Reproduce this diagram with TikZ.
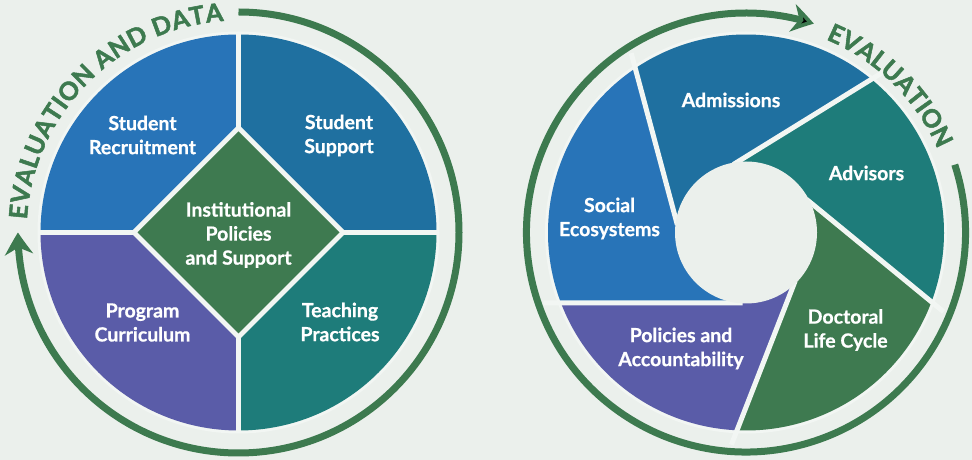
\documentclass[tikz,border=0pt]{standalone}
\usepackage{fontspec}
\setmainfont{Lato}
\newfontfamily\arcfont{Lato}[BoldFeatures={FakeBold=2}]
\newfontfamily\labfont{Lato}[BoldFeatures={FakeBold=0.7}]
\usetikzlibrary{arrows.meta,bending,decorations.text,calc}
\definecolor{bg}{HTML}{EBF0EC}
\definecolor{gapc}{HTML}{F2F6F3}
\definecolor{cblue}{HTML}{2874B8}
\definecolor{cdblue}{HTML}{1F70A0}
\definecolor{cpurple}{HTML}{5A5CA8}
\definecolor{cteal}{HTML}{1E7C7A}
\definecolor{cgreen}{HTML}{3E7A50}
\definecolor{arcg}{HTML}{3D7A4F}
\begin{document}
\begin{tikzpicture}[x=1pt,y=1pt,
  lab/.style={text=white, align=center, font=\labfont\bfseries\fontsize{19.5}{24}\selectfont},
  gapline/.style={draw=gapc, line width=5pt},
  halo/.style={draw=gapc, line width=3pt},
  ring/.style={draw=arcg, line width=7pt, -{Stealth[length=22pt,width=28pt,inset=7pt,bend]}},
  arctext/.style={decorate, decoration={text along path, text align={fit to path}, text color=arcg}}]
\fill[bg] (0,0) rectangle (972,460);
\useasboundingbox (0,0) rectangle (972,460);
\coordinate (C1) at (238.5,227.5);
\coordinate (C2) at (746,227.5);
% ---------- left circle ----------
\draw[halo] (C1) circle[radius=199.5];
\fill[cdblue] (C1) -- ($(C1)+(0:198)$) arc[start angle=0,end angle=90,radius=198] -- cycle;
\fill[cblue] (C1) -- ($(C1)+(90:198)$) arc[start angle=90,end angle=180,radius=198] -- cycle;
\fill[cpurple] (C1) -- ($(C1)+(180:198)$) arc[start angle=180,end angle=270,radius=198] -- cycle;
\fill[cteal] (C1) -- ($(C1)+(270:198)$) arc[start angle=270,end angle=360,radius=198] -- cycle;
\draw[gapline] ($(C1)+(0,-200)$) -- ($(C1)+(0,200)$);
\draw[gapline] ($(C1)+(-200,0)$) -- ($(C1)+(200,0)$);
\fill[gapc] ($(C1)+(0,108)$) -- ($(C1)+(108,0)$) -- ($(C1)+(0,-108)$) -- ($(C1)+(-108,0)$) -- cycle;
\fill[cgreen] ($(C1)+(0,101)$) -- ($(C1)+(101,0)$) -- ($(C1)+(0,-101)$) -- ($(C1)+(-101,0)$) -- cycle;
\node[lab] (recruit) at (142.5,325) {Student\\Recruitment};
\node[lab] (support) at (339,324.5) {Student\\Support};
\node[lab] (curric) at (142.5,137.5) {Program\\Curriculum};
\node[lab] (teach) at (340,138) {Teaching\\Practices};
\node[lab] (inst) at (238.5,225) {Institutional\\Policies\\and Support};
\draw[ring] ($(C1)+(90:220.5)$) arc[start angle=90,end angle=-180,radius=220.5];
\path[arctext, decoration={text={|\arcfont\bfseries\fontsize{25}{25}\selectfont|EVALUATION AND DATA}}]
  ($(C1)+(176.5:212)$) arc[start angle=176.5,end angle=94,radius=212];
% ---------- right circle ----------
\draw[halo] (C2) circle[radius=199.5];
\fill[cdblue] ($(C2)+(124:198)$) arc[start angle=124,end angle=50.7,radius=198]
  -- ($(C2)+(97:71)$) -- (C2) -- ($(C2)+(170:71)$) -- cycle;
\fill[cteal] ($(C2)+(50.7:198)$) arc[start angle=50.7,end angle=-20.5,radius=198]
  -- ($(C2)+(25:71)$) -- (C2) -- ($(C2)+(97:71)$) -- cycle;
\fill[cgreen] ($(C2)+(-20.5:198)$) arc[start angle=-20.5,end angle=-92.6,radius=198]
  -- ($(C2)+(-48:71)$) -- (C2) -- ($(C2)+(25:71)$) -- cycle;
\fill[cpurple] ($(C2)+(-92.6:198)$) arc[start angle=-92.6,end angle=-159.2,radius=198]
  -- ($(C2)+(-97:71)$) -- (C2) -- ($(C2)+(-48:71)$) -- cycle;
\fill[cblue] ($(C2)+(200.8:198)$) arc[start angle=200.8,end angle=124,radius=198]
  -- ($(C2)+(170:71)$) -- (C2) -- ($(C2)+(263:71)$) -- cycle;
\coordinate (o1) at ($(C2)+(124:198)$);   \coordinate (h1) at ($(C2)+(170:71)$);
\coordinate (o2) at ($(C2)+(50.7:198)$);  \coordinate (h2) at ($(C2)+(97:71)$);
\coordinate (o3) at ($(C2)+(-20.5:198)$); \coordinate (h3) at ($(C2)+(25:71)$);
\coordinate (o4) at ($(C2)+(-92.6:198)$); \coordinate (h4) at ($(C2)+(-48:71)$);
\coordinate (o5) at ($(C2)+(200.8:198)$); \coordinate (h5) at ($(C2)+(263:71)$);
\foreach \k in {1,...,5}{
  \draw[gapline] ($(h\k)!-0.03!(o\k)$) -- ($(h\k)!1.1!(o\k)$);
}
\fill[bg] (C2) circle[radius=71];
\node[lab] (adm) at (731,360) {Admissions};
\node[lab] (adv) at (866.5,287) {Advisors};
\node[lab] (soc) at (609.5,241.5) {Social\\Ecosystems};
\node[lab] (pol) at (681,111.5) {Policies and\\Accountability};
\node[lab] (doc) at (845.5,130) {Doctoral\\Life Cycle};
\draw[ring] ($(C2)+(18:219.5)$) arc[start angle=18,end angle=-288,radius=219.5];
\path[arctext, decoration={text={|\arcfont\bfseries\fontsize{25}{25}\selectfont|EVALUATION}}]
  ($(C2)+(67.5:209)$) arc[start angle=67.5,end angle=23.5,radius=209];
\end{tikzpicture}
\end{document}
